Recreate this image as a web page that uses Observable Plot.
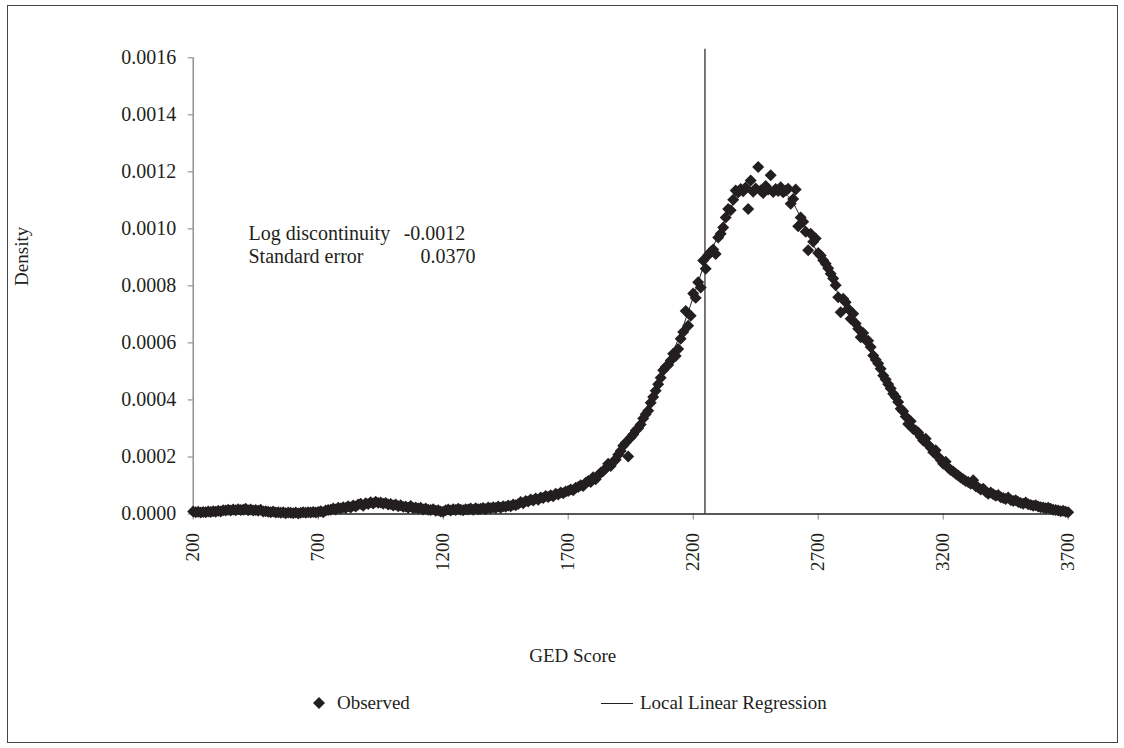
<!DOCTYPE html>
<html><head><meta charset="utf-8">
<script src="https://cdn.jsdelivr.net/npm/d3@7"></script>
<script src="https://cdn.jsdelivr.net/npm/@observablehq/plot@0.6"></script>
<style>
body{margin:0;background:#fff;}
#wrap{position:relative;width:1124px;height:748px;font-family:"Liberation Serif","Times New Roman",serif;color:#231f20;overflow:hidden}
#frame{position:absolute;left:7px;top:5px;width:1111px;height:738px;border:1px solid #444;box-sizing:border-box;pointer-events:none}
#chart{position:absolute;left:0;top:0}
#chart svg text{font-family:"Liberation Serif","Times New Roman",serif !important}
#legend{position:absolute;left:0;top:680px;width:1124px;height:68px;font-size:19px}
#legend .lbl{position:absolute;top:12px;height:22px;line-height:22px;white-space:nowrap}
#legend svg{position:absolute;top:13px}
</style></head>
<body><div id="wrap"><div id="chart"></div><div id="legend"></div><div id="frame"></div></div>
<script>
// GED score bins (bin centres every 10 points, 200 … 3700)
const binStart = 200, binStep = 10;
// Observed density, in units of 1e-5, one value per bin
const observedE5 = [
 0.9,0.6,0.8,0.5,0.7, 0.6,0.9,0.7,1.0,0.8,
 1.1,0.9,1.3,1.2,1.5, 1.2,1.6,1.3,1.7,1.4,
 1.5,1.8,1.3,1.6,1.2, 1.4,1.1,1.5,0.9,1.0,
 0.8,0.6,0.9,0.5,0.6, 0.4,0.6,0.3,0.5,0.4,
 0.3,0.5,0.2,0.4,0.6, 0.4,0.6,0.5,0.7,0.5,
 0.7,1.0,0.6,1.2,1.4, 1.5,1.9,1.6,2.2,1.9,
 2.4,2.1,2.7,2.3,3.0, 2.6,3.3,3.6,2.9,3.8,
 3.5,4.1,3.7,4.3,3.9, 4.0,3.6,3.9,3.3,3.5,
 3.0,3.3,2.7,3.1,2.5, 2.6,2.2,2.8,2.0,2.3,
 1.9,2.2,1.6,1.9,1.5, 1.4,1.7,1.1,1.3,0.9,
 0.8,1.3,1.6,1.2,1.7, 1.4,1.8,1.5,1.3,1.7,
 1.6,1.9,1.5,2.0,1.7, 1.8,2.1,1.7,2.3,2.0,
 2.4,2.1,2.6,2.2,2.7, 2.5,3.0,2.7,3.3,3.1,
 3.5,4.2,3.8,4.6,4.4, 5.1,4.7,5.4,5.0,5.8,
 5.6,6.3,6.0,6.6,6.2, 7.1,6.8,7.5,7.3,7.9,
 8.1,8.6,8.3,9.2,9.5, 10.1,9.8,11.0,11.6,11.2,
 12.9,12.2,13.6,14.5,15.1, 16.0,17.6,16.8,18.3,19.0,
 20.8,22.1,23.9,25.0,20.2, 26.8,27.9,29.3,30.1,31.4,
 33.5,35.0,36.2,39.0,41.0, 43.2,45.5,47.8,50.4,51.6,
 52.3,53.8,56.2,55.4,57.9, 61.5,63.8,71.2,66.0,69.5,
 77.3,75.8,81.3,79.4,88.9, 86.0,90.8,91.9,92.8,91.2,
 97.0,98.3,100.5,104.0,107.0, 106.5,110.2,113.5,112.8,114.0,
 113.2,114.5,107.0,117.0,113.0, 114.2,121.7,113.5,112.6,115.0,
 113.8,118.8,112.9,114.0,113.3, 114.6,112.8,113.5,114.1,108.8,
 110.5,113.8,100.9,104.0,102.5, 99.0,92.5,98.3,95.5,96.6,
 91.5,90.7,89.0,87.8,86.2, 84.3,82.6,80.2,76.0,70.8,
 75.5,74.3,72.0,68.5,70.2, 66.8,65.0,62.0,63.5,61.0,
 60.8,58.6,55.6,54.1,52.8, 50.9,48.6,47.2,45.5,44.0,
 42.2,41.0,39.3,36.9,36.0, 34.2,31.6,32.5,29.8,29.3,
 28.6,27.1,25.8,26.4,24.3, 23.2,21.7,22.4,20.1,18.9,
 17.6,18.3,16.2,15.4,14.9, 14.1,13.5,12.8,12.2,11.6,
 11.2,10.6,11.8,9.7,9.3, 8.6,8.9,7.8,7.1,7.5,
 6.9,6.4,6.7,5.9,5.6, 5.3,5.8,4.9,4.6,4.8,
 4.2,3.9,3.6,4.0,3.4, 3.2,2.9,3.1,2.6,2.4,
 2.3,2.0,2.2,1.8,1.5, 1.4,1.2,1.0,1.1,0.8,
 0.6
];
// Local linear regression fit, left of cutoff
const fitLeftScores = [200,250,300,350,400,450,500,550,600,650,700,750,800,850,900,950,1000,1050,1100,1150,1200,1250,1300,1350,1400,1450,1500,1550,1600,1650,1700,1750,1800,1850,1900,1950,2000,2050,2100,2150,2200,2247];
const fitLeftE5 = [0.8,0.8,1.1,1.4,1.5,1.2,0.7,0.45,0.4,0.55,0.85,1.6,2.4,3.2,3.8,3.7,3.0,2.4,1.8,1.3,1.2,1.5,1.7,1.95,2.4,2.9,3.9,5.0,6.1,7.2,8.6,10.6,13.2,16.8,21.5,27.5,35.0,44.0,53.0,63.5,76.0,88.5];
// Local linear regression fit, right of cutoff
const fitRightScores = [2247,2300,2350,2400,2450,2500,2550,2600,2650,2700,2750,2800,2850,2900,2950,3000,3050,3100,3150,3200,3250,3300,3350,3400,3450,3500,3550,3600,3650,3700];
const fitRightE5 = [88.0,97.5,107.5,112.5,114.0,114.5,113.5,109.0,100.0,91.0,82.5,74.0,66.0,58.5,50.5,42.5,35.0,28.5,23.0,18.2,14.2,11.0,8.6,6.7,5.2,4.0,3.0,2.1,1.2,0.6];
const cutoff = 2247;
const xTicks = [200,700,1200,1700,2200,2700,3200,3700];
const yTicks = [0,0.0002,0.0004,0.0006,0.0008,0.0010,0.0012,0.0014,0.0016];
const annotationLabels = ["Log discontinuity","Standard error"];
const annotationValues = ["-0.0012","0.0370"];
const seriesNames = ["Observed","Local Linear Regression"];

const observed = observedE5.map((d,i) => ({score: binStart + i*binStep, density: d*1e-5}));
const fitLeft = fitLeftScores.map((s,i) => ({score: s, density: fitLeftE5[i]*1e-5}));
const fitRight = fitRightScores.map((s,i) => ({score: s, density: fitRightE5[i]*1e-5}));

const ink = "#231f20";
const serif = '"Liberation Serif","Times New Roman",serif';
const chart = Plot.plot({
  width: 1124, height: 680,
  marginLeft: 192.7, marginRight: 56.3, marginTop: 57.3, marginBottom: 166.5,
  style: {fontFamily: serif, fontSize: "19px", color: ink, background: "transparent", overflow: "visible"},
  x: {domain: [200, 3700]},
  y: {domain: [0, 0.0016]},
  marks: [
    Plot.ruleX([200], {y1: 0, y2: 0.0016, stroke: "#808080", strokeWidth: 1.3}),
    Plot.axisY({ticks: yTicks, tickFormat: d3.format(".4f"), tickSize: 5, tickPadding: 12, stroke: "#808080", fontSize: 20, fontFamily: serif, label: null}),
    Plot.axisX({ticks: xTicks, tickFormat: d => String(d), tickSize: 6, tickPadding: 13, tickRotate: -90, stroke: "#808080", fontSize: 19, fontFamily: serif, label: null}),
    Plot.ruleY([0], {stroke: ink, strokeWidth: 1.5}),
    Plot.ruleX([cutoff], {y1: 0, y2: 0.00163, stroke: ink, strokeWidth: 1.2}),
    Plot.line(fitLeft, {x: "score", y: "density", stroke: ink, strokeWidth: 1, curve: "monotone-x"}),
    Plot.line(fitRight, {x: "score", y: "density", stroke: ink, strokeWidth: 1, curve: "monotone-x"}),
    Plot.dot(observed, {x: "score", y: "density", symbol: "diamond2", r: 5.4, fill: ink, stroke: "none"}),
    Plot.text(["Density"], {frameAnchor: "left", dx: -171, rotate: -90, fontSize: 19, fontFamily: serif, fill: ink}),
    Plot.text(["GED Score"], {frameAnchor: "bottom", dx: -58, dy: 147.5, fontSize: 19, fontFamily: serif, fill: ink}),
    Plot.text([annotationLabels[0]], {frameAnchor: "top-left", dx: 55.3, dy: 168.3, fontSize: 20, fontFamily: serif, fill: ink, textAnchor: "start"}),
    Plot.text([annotationLabels[1]], {frameAnchor: "top-left", dx: 55.3, dy: 191.3, fontSize: 20, fontFamily: serif, fill: ink, textAnchor: "start"}),
    Plot.text([annotationValues[0]], {frameAnchor: "top-left", dx: 210.5, dy: 168.3, fontSize: 20, fontFamily: serif, fill: ink, textAnchor: "start"}),
    Plot.text([annotationValues[1]], {frameAnchor: "top-left", dx: 227.3, dy: 191.3, fontSize: 20, fontFamily: serif, fill: ink, textAnchor: "start"})
  ]
});
document.getElementById("chart").appendChild(chart);

// Legend (below the plot SVG)
const legend = document.getElementById("legend");
legend.innerHTML =
  `<svg width="14" height="20" style="left:312px"><path d="M7,4 L13,10 L7,16 L1,10 Z" fill="${ink}"/></svg>` +
  `<span class="lbl" style="left:337px">${seriesNames[0]}</span>` +
  `<svg width="34" height="20" style="left:600px"><line x1="1" y1="10.5" x2="33" y2="10.5" stroke="${ink}" stroke-width="1"/></svg>` +
  `<span class="lbl" style="left:640px">${seriesNames[1]}</span>`;
</script>
</body></html>
